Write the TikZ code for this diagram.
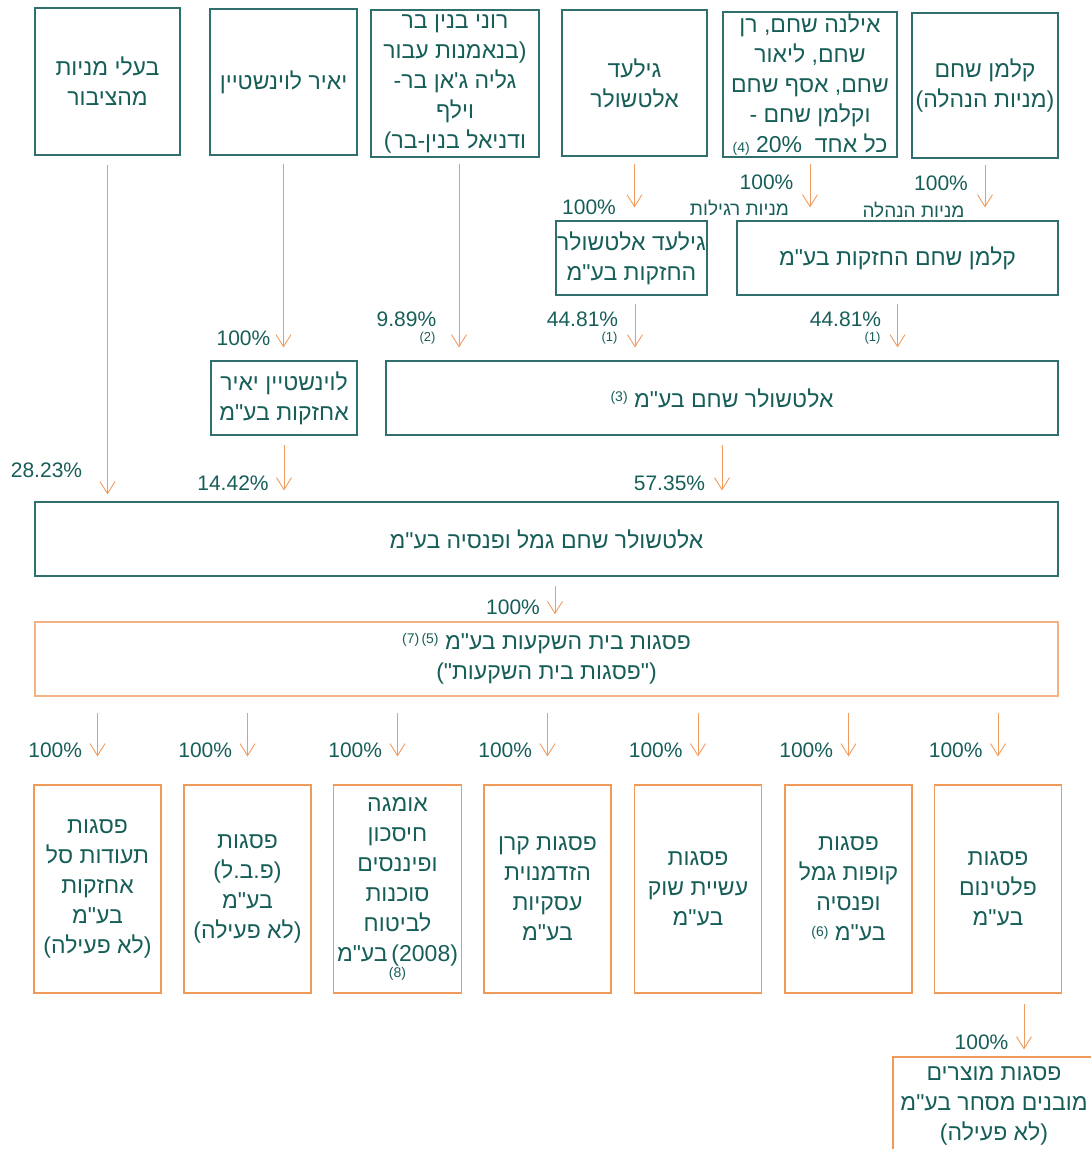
\documentclass[tikz,border=0pt]{standalone}
\usepackage{fontspec}
\newfontfamily\hebfont[Script=Hebrew]{Liberation Sans}
\usetikzlibrary{arrows.meta}
\TeXXeTstate=1
\definecolor{tealtext}{HTML}{175E59}
\definecolor{tealline}{HTML}{2F6F6E}
\definecolor{orangeline}{HTML}{F29B5E}
\definecolor{orangebox}{HTML}{F09A5A}
\definecolor{orangelight}{HTML}{F4B183}
\tikzset{>={Straight Barb[length=12pt,width=15pt]}}
\newcommand{\heb}[1]{\beginR#1\endR}

\begin{document}
\begin{tikzpicture}[
    x=1pt, y=-1pt,
    every node/.style={text=tealtext, align=center, font=\hebfont\fontsize{23}{30}\selectfont},
    ownerbox/.style={draw=tealline, line width=1.1pt},
    firmbox/.style={draw=orangebox, line width=1.1pt},
    pct/.style={inner sep=0pt, font=\hebfont\fontsize{21}{21}\selectfont},
    note/.style={inner sep=0pt, font=\hebfont\fontsize{13}{13}\selectfont},
    arr/.style={->, draw=orangeline, line width=0.9pt}
]
    \useasboundingbox (0,0) rectangle (1091,1149);

    % Owners
    \node[ownerbox, minimum width=145pt, minimum height=147pt] (pub) at (107.5,81.5) {\heb{בעלי מניות}\\\heb{מהציבור}};
    \node[ownerbox, minimum width=147pt, minimum height=146pt] (yair) at (283.5,82) {\heb{יאיר לוינשטיין}};
    \node[ownerbox, minimum width=168pt, minimum height=147pt, inner sep=0pt] (roni) at (455,83.5) {\heb{רוני בנין בר}\\\heb{(בנאמנות עבור}\\\heb{גליה ג'אן בר-}\\\heb{וילף}\\\heb{ודניאל בנין-בר)}};
    \node[ownerbox, minimum width=145pt, minimum height=146pt] (gilad) at (634.5,83) {\heb{גילעד}\\\heb{אלטשולר}};
    \node[ownerbox, minimum width=174pt, minimum height=145pt, inner sep=0pt] (ilana) at (810,84.5) {\heb{אילנה שחם, רן}\\\heb{שחם, ליאור}\\\heb{שחם, אסף שחם}\\\heb{וקלמן שחם -}\\\heb{כל אחד~~\mbox{20\%~{\fontsize{14}{14}\selectfont(4)}}}};
    \node[ownerbox, minimum width=146pt, minimum height=145pt] (kalman) at (985,85.5) {\heb{קלמן שחם}\\\heb{(מניות הנהלה)}};

    % Holding companies
    \node[ownerbox, minimum width=151pt, minimum height=74pt, inner xsep=0pt] (giladh) at (631.5,258) {\heb{גילעד אלטשולר}\\\heb{החזקות בע"מ}};
    \node[ownerbox, minimum width=321pt, minimum height=74pt] (kalmanh) at (897.5,258) {\heb{קלמן שחם החזקות בע"מ}};
    \node[ownerbox, minimum width=146pt, minimum height=74pt, inner xsep=0pt] (levh) at (284,398) {\heb{לוינשטיין יאיר}\\\heb{אחזקות בע"מ}};
    \node[ownerbox, minimum width=672pt, minimum height=74pt] (altsh) at (722,398) {\heb{אלטשולר שחם בע"מ \raisebox{6pt}{\fontsize{14}{14}\selectfont(3)}}};
    \node[ownerbox, minimum width=1023pt, minimum height=74pt] (gemel) at (546.5,539) {\heb{אלטשולר שחם גמל ופנסיה בע"מ}};
    \node[firmbox, draw=orangelight, line width=1.6pt, minimum width=1023pt, minimum height=74pt] (psagot) at (546.5,659) {\heb{פסגות בית השקעות בע"מ \raisebox{6pt}{\fontsize{14}{14}\selectfont(5)\,(7)}}\\\heb{("פסגות בית השקעות")}};

    % Subsidiaries
    \node[firmbox, minimum width=127pt, minimum height=208pt] (c1) at (97.5,889) {\heb{פסגות}\\\heb{תעודות סל}\\\heb{אחזקות}\\\heb{בע"מ}\\\heb{(לא פעילה)}};
    \node[firmbox, minimum width=127pt, minimum height=208pt] (c2) at (247.5,889) {\heb{פסגות}\\\heb{(פ.ב.ל)}\\\heb{בע"מ}\\\heb{(לא פעילה)}};
    \node[firmbox, minimum width=127pt, minimum height=208pt] (c3) at (397.5,889) {\heb{אומגה}\\\heb{חיסכון}\\\heb{ופיננסים}\\\heb{סוכנות}\\\heb{לביטוח}\\\heb{\mbox{(2008)}\,בע"מ}\\[-14pt]{\fontsize{14}{14}\selectfont(8)}};
    \node[firmbox, minimum width=127pt, minimum height=208pt] (c4) at (547.5,889) {\heb{פסגות קרן}\\\heb{הזדמנוית}\\\heb{עסקיות}\\\heb{בע"מ}};
    \node[firmbox, minimum width=127pt, minimum height=208pt] (c5) at (698,889) {\heb{פסגות}\\\heb{עשיית שוק}\\\heb{בע"מ}};
    \node[firmbox, minimum width=127pt, minimum height=208pt] (c6) at (848.5,889) {\heb{פסגות}\\\heb{קופות גמל}\\\heb{ופנסיה}\\\heb{בע"מ \raisebox{4pt}{\fontsize{14}{14}\selectfont(6)}}};
    \node[firmbox, minimum width=127pt, minimum height=208pt] (c7) at (998,889) {\heb{פסגות}\\\heb{פלטינום}\\\heb{בע"מ}};
    \node[firmbox, minimum width=202pt, minimum height=98pt] (c8) at (994,1106) {\heb{פסגות מוצרים}\\\heb{מובנים מסחר בע"מ}\\\heb{(לא פעילה)}};

    % Arrows
    \draw[arr] ([yshift=-9pt]pub.south) -- ([yshift=7pt]gemel.north -| pub.south);
    \draw[arr] ([yshift=-8pt]yair.south) -- ([yshift=13pt]levh.north -| yair.south);
    \coordinate (ronia) at ([xshift=4pt,yshift=-6pt]roni.south);
    \draw[arr] (ronia) -- ([yshift=13pt]altsh.north -| ronia);
    \draw[arr] ([yshift=-7pt]gilad.south) -- ([yshift=13pt]giladh.north -| gilad.south);
    \draw[arr] ([yshift=-6pt]ilana.south) -- ([yshift=13pt]kalmanh.north -| ilana.south);
    \draw[arr] ([yshift=-6pt]kalman.south) -- ([yshift=13pt]kalmanh.north -| kalman.south);
    \coordinate (giladha) at ([xshift=3.5pt,yshift=-8pt]giladh.south);
    \draw[arr] (giladha) -- ([yshift=13pt]altsh.north -| giladha);
    \draw[arr] ([yshift=-8pt]kalmanh.south) -- ([yshift=13pt]altsh.north -| kalmanh.south);
    \draw[arr] ([yshift=-9pt]levh.south) -- ([yshift=11pt]gemel.north -| levh.south);
    \draw[arr] ([yshift=-9pt]altsh.south) -- ([yshift=11pt]gemel.north -| altsh.south);
    \coordinate (gemela) at ([xshift=8.5pt,yshift=-9pt]gemel.south);
    \draw[arr] (gemela) -- ([yshift=7pt]psagot.north -| gemela);
    \foreach \i in {1,...,7}
        \draw[arr] ([yshift=-16pt]psagot.south -| c\i.north) -- ([yshift=28pt]c\i.north)
            node[pct, anchor=east, xshift=-15pt, yshift=6pt] (pc\i) {100\%};
    \coordinate (c7a) at ([xshift=26pt,yshift=-10pt]c7.south);
    \draw[arr] (c7a) -- ([yshift=7pt]c8.north -| c7a);

    % Percentages
    \node[pct] (ppub) at (46.5,470) {28.23\%};
    \node[pct] (pyair) at (243.5,338) {100\%};
    \node[pct] (proni) at (406.5,319) {9.89\%};
    \node[note] (nroni) at (427.5,338) {(2)};
    \node[pct] (pgilad) at (589,207) {100\%};
    \node[pct] (pilana) at (766.5,182) {100\%};
    \node[pct, font=\hebfont\fontsize{19}{19}\selectfont] (silana) at (739.5,208) {\heb{מניות רגילות}};
    \node[pct] (pkalman) at (941,183) {100\%};
    \node[pct, font=\hebfont\fontsize{19}{19}\selectfont] (skalman) at (913.5,210) {\heb{מניות הנהלה}};
    \node[pct] (pgiladh) at (582.5,319) {44.81\%};
    \node[note] (ngiladh) at (609.5,338) {(1)};
    \node[pct] (pkalmanh) at (845.5,319) {44.81\%};
    \node[note] (nkalmanh) at (872.5,338) {(1)};
    \node[pct] (plevh) at (233,483) {14.42\%};
    \node[pct] (paltsh) at (669.5,483) {57.35\%};
    \node[pct] (pgemel) at (513,607) {100\%};
    \node[pct] (pc8) at (981.5,1042) {100\%};
\end{tikzpicture}
\end{document}
